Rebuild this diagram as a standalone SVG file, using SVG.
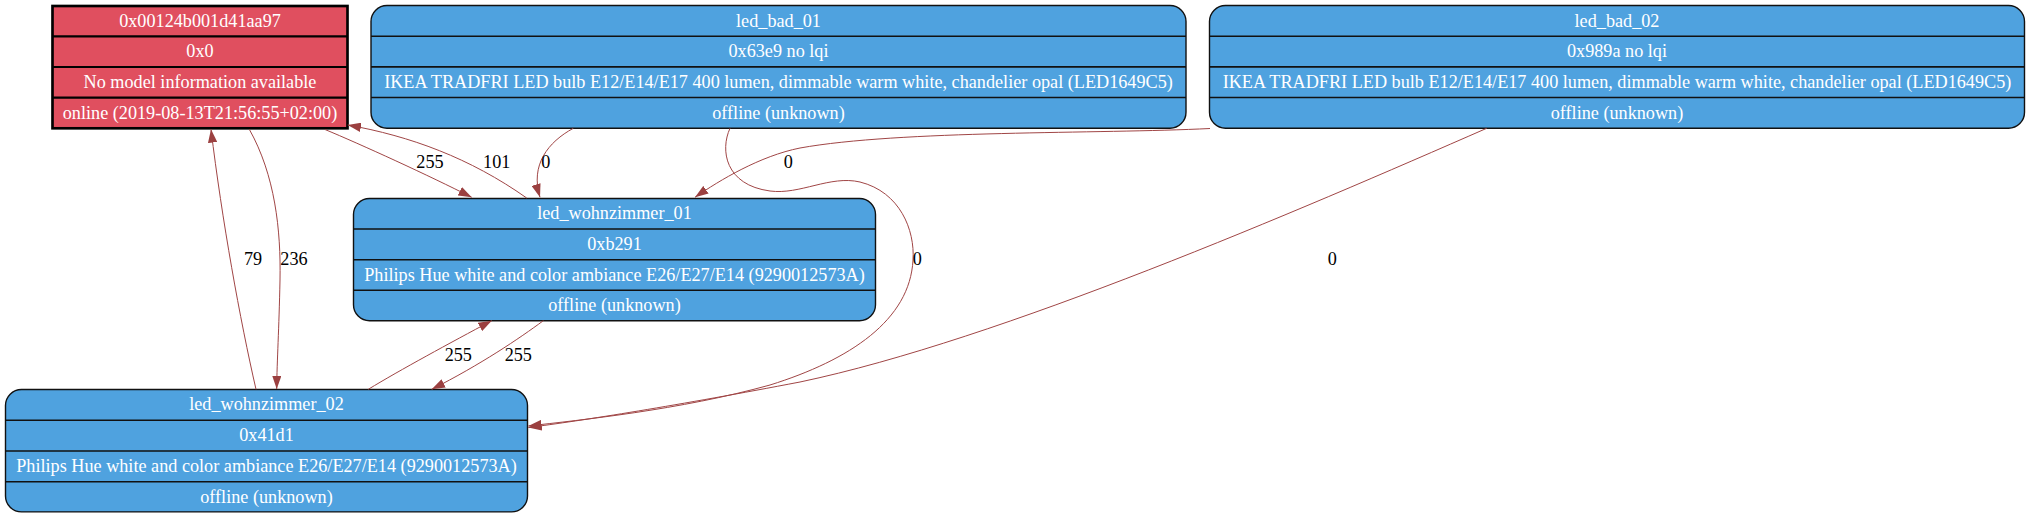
<svg xmlns="http://www.w3.org/2000/svg" width="2030" height="519" viewBox="0 0 2030 519">
<style>
.bg{fill:#ffffff}
.red{fill:#e04f5f;stroke:#000;stroke-width:2.67}
.blue{fill:#4fa2df;stroke:#111;stroke-width:1.4}
.divr{stroke:#000;stroke-width:2.2}
.divb{stroke:#111;stroke-width:1.6}
.nt{font-family:"Liberation Serif","Times New Roman",serif;font-size:18.2px;fill:#ffffff;text-anchor:middle}
.el{font-family:"Liberation Serif","Times New Roman",serif;font-size:18.2px;fill:#000;text-anchor:middle}
.edge{fill:none;stroke:#a04545;stroke-width:1;marker-end:url(#ah)}
</style>
<defs>
<marker id="ah" viewBox="0 0 13.33 9.33" refX="13.33" refY="4.67" markerWidth="13.33" markerHeight="9.33" markerUnits="userSpaceOnUse" orient="auto">
<path d="M0,0 L13.33,4.67 L0,9.33 z" fill="#9b4040"/>
</marker>
</defs>
<rect class="bg" x="0" y="0" width="2030" height="519"/>

<g id="node_0x00124b001d41aa97">
<rect class="red" x="52.5" y="6" width="295" height="122.3"/>
<line class="divr" x1="52.5" y1="36.3" x2="347.5" y2="36.3"/>
<line class="divr" x1="52.5" y1="67" x2="347.5" y2="67"/>
<line class="divr" x1="52.5" y1="97.7" x2="347.5" y2="97.7"/>
<text class="nt" x="200" y="26.5">0x00124b001d41aa97</text>
<text class="nt" x="200" y="57.2">0x0</text>
<text class="nt" x="200" y="87.9">No model information available</text>
<text class="nt" x="200" y="118.5">online (2019-08-13T21:56:55+02:00)</text>
</g>

<g id="node_led_bad_01">
<rect class="blue" x="371" y="5.5" width="815" height="122.7" rx="16" ry="16"/>
<line class="divb" x1="371" y1="36.2" x2="1186" y2="36.2"/>
<line class="divb" x1="371" y1="66.9" x2="1186" y2="66.9"/>
<line class="divb" x1="371" y1="97.5" x2="1186" y2="97.5"/>
<text class="nt" x="778.5" y="26.5">led_bad_01</text>
<text class="nt" x="778.5" y="57.2">0x63e9 no lqi</text>
<text class="nt" x="778.5" y="87.9">IKEA TRADFRI LED bulb E12/E14/E17 400 lumen, dimmable warm white, chandelier opal (LED1649C5)</text>
<text class="nt" x="778.5" y="118.5">offline (unknown)</text>
</g>

<g id="node_led_bad_02">
<rect class="blue" x="1209.5" y="5.5" width="815" height="122.7" rx="16" ry="16"/>
<line class="divb" x1="1209.5" y1="36.2" x2="2024.5" y2="36.2"/>
<line class="divb" x1="1209.5" y1="66.9" x2="2024.5" y2="66.9"/>
<line class="divb" x1="1209.5" y1="97.5" x2="2024.5" y2="97.5"/>
<text class="nt" x="1617" y="26.5">led_bad_02</text>
<text class="nt" x="1617" y="57.2">0x989a no lqi</text>
<text class="nt" x="1617" y="87.9">IKEA TRADFRI LED bulb E12/E14/E17 400 lumen, dimmable warm white, chandelier opal (LED1649C5)</text>
<text class="nt" x="1617" y="118.5">offline (unknown)</text>
</g>

<g id="node_led_wohnzimmer_01">
<rect class="blue" x="353.5" y="198.5" width="522" height="122.2" rx="16" ry="16"/>
<line class="divb" x1="353.5" y1="229" x2="875.5" y2="229"/>
<line class="divb" x1="353.5" y1="259.7" x2="875.5" y2="259.7"/>
<line class="divb" x1="353.5" y1="290.3" x2="875.5" y2="290.3"/>
<text class="nt" x="614.5" y="219.3">led_wohnzimmer_01</text>
<text class="nt" x="614.5" y="250">0xb291</text>
<text class="nt" x="614.5" y="280.6">Philips Hue white and color ambiance E26/E27/E14 (9290012573A)</text>
<text class="nt" x="614.5" y="311.3">offline (unknown)</text>
</g>

<g id="node_led_wohnzimmer_02">
<rect class="blue" x="5.5" y="389.5" width="522" height="122.4" rx="16" ry="16"/>
<line class="divb" x1="5.5" y1="420.3" x2="527.5" y2="420.3"/>
<line class="divb" x1="5.5" y1="451" x2="527.5" y2="451"/>
<line class="divb" x1="5.5" y1="481.7" x2="527.5" y2="481.7"/>
<text class="nt" x="266.5" y="410.4">led_wohnzimmer_02</text>
<text class="nt" x="266.5" y="441.1">0x41d1</text>
<text class="nt" x="266.5" y="471.8">Philips Hue white and color ambiance E26/E27/E14 (9290012573A)</text>
<text class="nt" x="266.5" y="502.5">offline (unknown)</text>
</g>

<g id="connectors">
<path class="edge" d="M325,129.5 C360,144 430,176 471.7,197.3"/>
<text class="el" x="430" y="168">255</text>
<path class="edge" d="M526.7,198 C470,158 410,136 347.7,125"/>
<text class="el" x="496.7" y="168">101</text>
<path class="edge" d="M573.3,128.3 C548,142 530,165 540,197.3"/>
<text class="el" x="545.7" y="168">0</text>
<path class="edge" d="M1210,128.5 C1100,134 900,130 800,148 C760,156 720,180 695,197.3"/>
<text class="el" x="788.3" y="168">0</text>
<path class="edge" d="M249.3,129.3 C275,175 281,230 280,280 C279,330 277,360 276.7,389"/>
<text class="el" x="294" y="265">236</text>
<path class="edge" d="M256,389.3 C240,320 222,220 211,129.3"/>
<text class="el" x="253" y="265">79</text>
<path class="edge" d="M368.3,389.3 C400,370 450,343 491.7,320.7"/>
<text class="el" x="458.3" y="360.7">255</text>
<path class="edge" d="M543.3,320.7 C520,338 480,365 431.7,389.3"/>
<text class="el" x="518.3" y="360.7">255</text>
<path class="edge" d="M730,128.3 C720,150 725,185 770,191 C800,195 830,175 860,182 C900,192 915,230 913,260 C910,320 850,360 770,385 C680,410 580,420 528.3,426"/>
<text class="el" x="917.3" y="265">0</text>
<path class="edge" d="M1486.7,128.3 C1300,210 1000,340 800,382 C680,405 580,421 528.3,427.5"/>
<text class="el" x="1332.3" y="265">0</text>
</g>
</svg>
